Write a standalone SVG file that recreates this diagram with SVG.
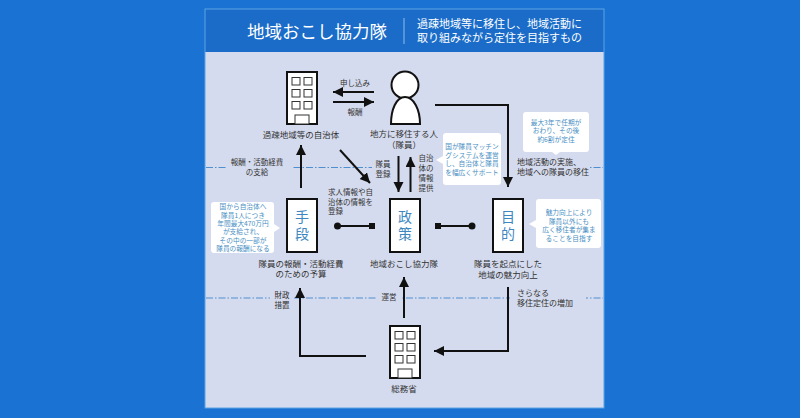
<svg xmlns="http://www.w3.org/2000/svg" width="800" height="418" viewBox="0 0 800 418">
<defs>
<style>
text{font-family:"Noto Sans CJK JP","Noto Sans",sans-serif;}
.l{font-size:8.500px;fill:#333;text-anchor:middle}
.ls{font-size:7.500px;fill:#333;text-anchor:middle}
.st{font-size:7.500px;fill:#333}
.ll{font-size:8px;fill:#333}
.c{font-size:6.700px;fill:#4a8fc4;text-anchor:middle}
.k{font-size:14px;fill:#3d86c0;text-anchor:middle}
.b{fill:#fff;stroke:#111;stroke-width:2}
.w{fill:#fff;stroke:#333;stroke-width:1}
.ln{fill:none;stroke:#111;stroke-width:2}
.dash{stroke:#4f8fd0;stroke-width:1;stroke-dasharray:7 2 1.500 2;fill:none}
.bg{fill:#d5dbee}
</style>
<marker id="ah" markerUnits="userSpaceOnUse" markerWidth="11" markerHeight="11" refX="10" refY="5" orient="auto"><path d="M0 0L10 5L0 10z" fill="#111"/></marker>
<g id="bld"><rect class="b" x="0" y="0" width="30" height="52"/><rect class="w" x="5" y="5.500" width="8" height="7.500"/><rect class="w" x="17" y="5.500" width="8" height="7.500"/><rect class="w" x="5" y="17.500" width="8" height="7.500"/><rect class="w" x="17" y="17.500" width="8" height="7.500"/><rect class="w" x="5" y="29.500" width="8" height="7.500"/><rect class="w" x="17" y="29.500" width="8" height="7.500"/><rect class="w" x="8" y="43" width="14" height="9"/></g>
</defs>
<rect width="800" height="418" fill="#1a72d2"/>
<rect x="205" y="9" width="399" height="399" fill="#d5dbee"/>
<rect x="205" y="9" width="399" height="43" fill="#1a6cc8"/>
<rect x="205" y="9" width="399" height="399" fill="none" stroke="#5ba3e6" stroke-width="1"/>
<g id="header">
<text x="317" y="38" font-size="17.500" fill="#fff" text-anchor="middle">地域おこし協力隊</text>
<line x1="404" y1="18" x2="404" y2="44" stroke="#8dbcec" stroke-width="1"/>
<text x="417" y="28" font-size="11" fill="#fff">過疎地域等に移住し、地域活動に</text>
<text x="417" y="42" font-size="11" fill="#fff">取り組みながら定住を目指すもの</text>
</g>
<g id="guides">
<line class="dash" x1="206" y1="167.500" x2="603" y2="167.500"/>
<line class="dash" x1="206" y1="298" x2="603" y2="298"/>
<rect class="bg" x="226" y="160" width="66" height="10"/>
<rect class="bg" x="372" y="160" width="70" height="10"/>
<rect class="bg" x="502" y="160" width="88" height="10"/>
<rect class="bg" x="270" y="292" width="24" height="10"/>
<rect class="bg" x="377" y="292" width="24" height="10"/>
<rect class="bg" x="510" y="292" width="76" height="10"/>
</g>
<g id="connectors">
<line class="ln" x1="374" y1="92" x2="333" y2="92" marker-end="url(#ah)"/>
<line class="ln" x1="333" y1="102" x2="374" y2="102" marker-end="url(#ah)"/>
<path class="ln" d="M435 105H508V187" marker-end="url(#ah)"/>
<line class="ln" x1="301" y1="188" x2="301" y2="145" marker-end="url(#ah)"/>
<line class="ln" x1="340" y1="150" x2="370" y2="183" marker-end="url(#ah)"/>
<line class="ln" x1="398.500" y1="156" x2="398.500" y2="192" marker-end="url(#ah)"/>
<line class="ln" x1="410.500" y1="192" x2="410.500" y2="157" marker-end="url(#ah)"/>
<line class="ln" x1="337" y1="226" x2="372" y2="226"/>
<circle cx="337.500" cy="226" r="3.500" fill="#111"/><rect x="369" y="223" width="6" height="6" fill="#111"/>
<line class="ln" x1="437" y1="226" x2="472" y2="226"/>
<rect x="435" y="223" width="6" height="6" fill="#111"/><circle cx="472" cy="226" r="3.500" fill="#111"/>
<line class="ln" x1="404" y1="318" x2="404" y2="277" marker-end="url(#ah)"/>
<path class="ln" d="M366 356H300V288" marker-end="url(#ah)"/>
<path class="ln" d="M508 287V351H434" marker-end="url(#ah)"/>
</g>
<g id="node-municipality"><use href="#bld" x="287" y="72"/><text class="l" x="301" y="138">過疎地域等の自治体</text></g>
<g id="node-person">
<circle cx="405" cy="85" r="13.500" fill="#fff" stroke="#111" stroke-width="2"/>
<path d="M391 124C391 110 396 97 405 97C414 97 420 110 420 124z" fill="#fff" stroke="#111" stroke-width="2"/>
<text class="l" x="404" y="137">地方に移住する人</text><text class="l" x="404" y="148">（隊員）</text>
</g>
<g id="node-means"><rect class="b" x="287" y="199" width="30" height="53"/><text class="k" x="302" y="222">手</text><text class="k" x="302" y="239">段</text>
<text class="l" x="301" y="267">隊員の報酬・活動経費</text><text class="l" x="301" y="277">のための予算</text></g>
<g id="node-policy"><rect class="b" x="390" y="199" width="30" height="53"/><text class="k" x="405" y="222">政</text><text class="k" x="405" y="239">策</text>
<text class="l" x="404" y="267">地域おこし協力隊</text></g>
<g id="node-goal"><rect class="b" x="493" y="199" width="30" height="53"/><text class="k" x="508" y="222">目</text><text class="k" x="508" y="239">的</text>
<text class="l" x="508" y="267">隊員を起点にした</text><text class="l" x="508" y="278">地域の魅力向上</text></g>
<g id="node-ministry"><use href="#bld" x="390" y="326"/><text class="l" x="404" y="392">総務省</text></g>
<g id="labels">
<text class="ls" x="355" y="86">申し込み</text>
<text class="ls" x="355" y="115">報酬</text>
<text class="ls" x="257" y="165">報酬・活動経費</text><text class="ls" x="257" y="175">の支給</text>
<text class="ls" x="383" y="167">隊員</text><text class="ls" x="383" y="177">登録</text>
<text class="ls" x="426" y="161">自治</text><text class="ls" x="426" y="171">体の</text><text class="ls" x="426" y="181">情報</text><text class="ls" x="426" y="191">提供</text>
<text class="st" x="328" y="195">求人情報や自</text><text class="st" x="328" y="205">治体の情報を</text><text class="st" x="328" y="214">登録</text>
<text class="ll" x="517" y="165">地域活動の実施、</text><text class="ll" x="517" y="175">地域への隊員の移住</text>
<text class="ls" x="282" y="298">財政</text><text class="ls" x="282" y="308">措置</text>
<text class="ls" x="389" y="300">運営</text>
<text class="ll" x="517" y="296">さらなる</text><text class="ll" x="517" y="306">移住定住の増加</text>
</g>
<g id="callout-a"><path d="M214 202H271a3 3 0 0 1 3 3V224L280 228L274 232V250a3 3 0 0 1-3 3H214a3 3 0 0 1-3-3V205a3 3 0 0 1 3-3z" fill="#fff"/>
<text class="c" x="243" y="209">国から自治体へ</text><text class="c" x="243" y="218">隊員1人につき</text><text class="c" x="243" y="226">年間最大470万円</text><text class="c" x="243" y="234">が支給され、</text><text class="c" x="243" y="243">その中の一部が</text><text class="c" x="243" y="251">隊員の報酬になる</text></g>
<g id="callout-b"><path d="M446 133H498a3 3 0 0 1 3 3V182a3 3 0 0 1-3 3H446a3 3 0 0 1-3-3V164L436 160L443 156V136a3 3 0 0 1 3-3z" fill="#fff"/>
<text class="c" x="472" y="149">国が隊員マッチン</text><text class="c" x="472" y="158">グシステムを運営</text><text class="c" x="472" y="166">し、自治体と隊員</text><text class="c" x="472" y="175">を幅広くサポート</text></g>
<g id="callout-c"><path d="M526 112H586a3 3 0 0 1 3 3V149a3 3 0 0 1-3 3H560L556 155L552 152H526a3 3 0 0 1-3-3V115a3 3 0 0 1 3-3z" fill="#fff"/>
<text class="c" x="556" y="125">最大3年で任期が</text><text class="c" x="556" y="133">おわり、その後</text><text class="c" x="556" y="142">約6割が定住</text></g>
<g id="callout-d"><path d="M539 199H598a3 3 0 0 1 3 3V245a3 3 0 0 1-3 3H539a3 3 0 0 1-3-3V228L529 224L536 220V202a3 3 0 0 1 3-3z" fill="#fff"/>
<text class="c" x="569" y="215">魅力向上により</text><text class="c" x="569" y="224">隊員以外にも</text><text class="c" x="569" y="232">広く移住者が集ま</text><text class="c" x="569" y="241">ることを目指す</text></g>
</svg>
